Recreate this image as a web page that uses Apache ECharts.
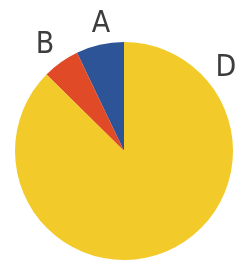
<!DOCTYPE html>
<html><head><meta charset="utf-8">
<script src="https://cdn.jsdelivr.net/npm/echarts@6/dist/echarts.min.js"></script>
<style>html,body{margin:0;padding:0;background:#fff}#c{width:242px;height:262px}</style>
</head><body><div id="c"></div>
<script>
const categories = ['A', 'B', 'D'];
const values = [7.1, 5.5, 87.4];
const colors = ['#2d5496', '#e04a27', '#f2cb2a'];
// label placement (layout only): label centre in px
const labelPos = [[101, 24], [45, 45], [226, 68]];

const chart = echarts.init(document.getElementById('c'));
chart.setOption({
  animation: false,
  series: [{
    type: 'pie',
    center: [124, 151],
    radius: [0, 109],
    startAngle: 90,
    clockwise: false,
    silent: true,
    avoidLabelOverlap: false,
    data: categories.map((c, i) => ({ name: c, value: values[i], itemStyle: { color: colors[i] } })),
    label: {
      show: true,
      position: 'outside',
      formatter: '{b}',
      fontFamily: '"DejaVu Sans Condensed", "Liberation Sans Narrow", "Roboto Condensed", sans-serif',
      fontSize: 30,
      color: '#3d3d3d'
    },
    labelLine: { show: false },
    labelLayout: function (p) {
      const pos = labelPos[p.dataIndex];
      return { x: pos[0], y: pos[1], align: 'center', verticalAlign: 'middle', hideOverlap: false, moveOverlap: null };
    }
  }]
});
</script></body></html>
